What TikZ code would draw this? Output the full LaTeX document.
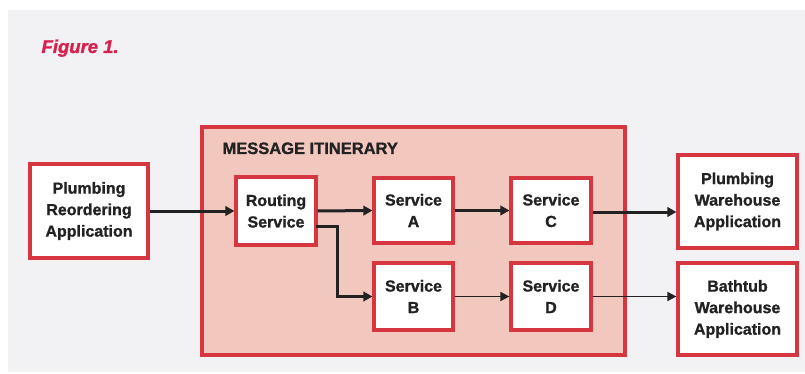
\documentclass[tikz,border=0pt]{standalone}
\usepackage{fontspec}
\setmainfont{Liberation Sans}[BoldFeatures={FakeBold=1.2}, BoldItalicFeatures={FakeBold=1.2}]
\usetikzlibrary{arrows.meta}
\definecolor{bg}{HTML}{F2F2F4}
\definecolor{redline}{HTML}{D6363F}
\definecolor{pinkfill}{HTML}{F2C7BE}
\definecolor{titlered}{HTML}{D81F4E}
\definecolor{ink}{HTML}{222222}
\tikzset{
  box/.style={draw=redline, line width=3.2pt, fill=white, inner sep=0pt, align=center,
    font=\fontsize{16}{21.5}\selectfont\bfseries, text=ink},
  conn/.style={draw=ink, line width=3pt, -{Triangle[length=9pt,width=9.5pt]}},
  thinconn/.style={draw=ink, line width=1.6pt, -{Triangle[length=9pt,width=9pt]}},
}
\begin{document}
\begin{tikzpicture}[x=1pt,y=-1pt]
\useasboundingbox (0,0) rectangle (805,374);
\fill[bg] (8,10) rectangle (805,372);
\node[anchor=base west, text=titlered, font=\fontsize{18.5}{20}\selectfont\bfseries\itshape] (title) at (38,53) {Figure 1.};
\node[draw=redline, line width=3.4pt, fill=pinkfill, minimum width=423pt, minimum height=228pt, inner sep=0pt] (itin) at (413.5,241) {};
\node[anchor=base west, text=ink, font=\fontsize{16.5}{18}\selectfont\bfseries] (itinlabel) at (219,154) {MESSAGE ITINERARY};
\node[box, minimum width=118pt, minimum height=94pt] (pra) at (89,211) {Plumbing\\Reordering\\Application};
\node[box, minimum width=80pt, minimum height=68pt] (rs) at (276,211) {Routing\\Service};
\node[box, minimum width=79pt, minimum height=65pt] (sa) at (413.5,210.5) {Service\\A};
\node[box, minimum width=80pt, minimum height=65pt] (sc) at (551,210.5) {Service\\C};
\node[box, minimum width=79pt, minimum height=67pt] (sb) at (413.5,296.5) {Service\\B};
\node[box, minimum width=80pt, minimum height=67pt] (sd) at (551,296.5) {Service\\D};
\node[box, minimum width=119pt, minimum height=93pt] (pwa) at (737.5,201.5) {Plumbing\\Warehouse\\Application};
\node[box, minimum width=119pt, minimum height=92pt] (bwa) at (737.5,309) {Bathtub\\Warehouse\\Application};
\draw[conn] (pra.east) -- (rs.west);
\draw[conn] (rs.east) -- (sa.west);
\coordinate (rsout) at (316,226);
\coordinate (bend) at (337,226);
\draw[conn] (rsout) -- (bend) |- (sb.west);
\draw[conn] (sa.east) -- (sc.west);
\draw[conn] ([yshift=-1.5pt]sc.east) -- ([yshift=-1.5pt]sc.east -| pwa.west);
\draw[thinconn] (sb.east) -- (sd.west);
\draw[thinconn] (sd.east) -- (sd.east -| bwa.west);
\end{tikzpicture}
\end{document}
